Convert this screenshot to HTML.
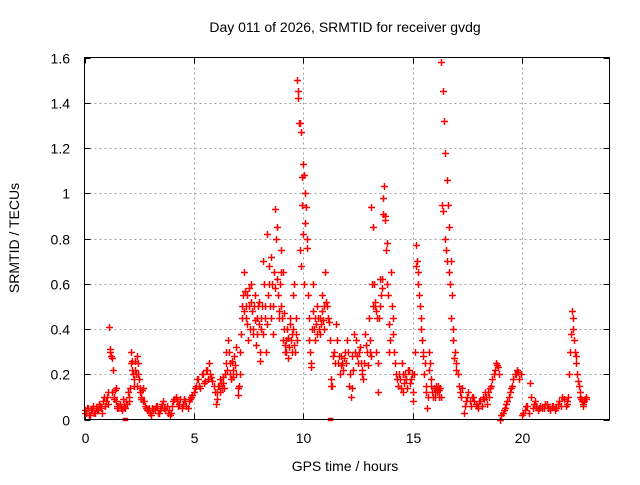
<!DOCTYPE html>
<html><head><meta charset="utf-8"><style>
body{margin:0;background:#fff}
svg text{font-family:"Liberation Sans",sans-serif;font-size:14px;fill:#000}
</style></head><body>
<svg id="chart" width="640" height="480" xmlns="http://www.w3.org/2000/svg">
<rect width="640" height="480" fill="#fff"/>
<text x="345" y="32" text-anchor="middle">Day 011 of 2026, SRMTID for receiver gvdg</text>
<text x="345" y="471" text-anchor="middle">GPS time / hours</text>
<text transform="translate(19,238) rotate(-90)" text-anchor="middle">SRMTID / TECUs</text>
<g id="grid"></g>
<g id="ticks"></g>
<g id="marks"></g>
<rect x="84.5" y="57.5" width="525" height="362" fill="none" stroke="#000" stroke-width="1"/>
</svg>
<script>
const xTicks=[0,5,10,15,20];
const yTicks=[0,0.2,0.4,0.6,0.8,1,1.2,1.4,1.6];
const yTickLabels=["0","0.2","0.4","0.6","0.8","1","1.2","1.4","1.6"];
const segStart=[0,1.0,1.5,2.0,2.7,4.0,5.0,6.0,7.0,8.0,9.0,10.0,11.0,12.0,13.0,14.0,15.0,16.0,17.0,18.0,19.0,20.0,21.0,22.0];
const segStep=[0.09,0.06,0.1,0.055,0.1,0.11,0.1,0.07,0.06,0.06,0.052,0.062,0.083,0.083,0.058,0.083,0.066,0.062,0.11,0.1,0.11,0.12,0.14,0.07];
const segValues=[
[0.04,0.03,0.05,0.02,0.04,0.03,0.05,0.04,0.06,0.03,0.1],
[0.08,0.12,0.41,0.30,0.27,0.22,0.10,0.14,0.06],
[0.05,0.07,0.04,0.06,0.08],
[0.12,0.08,0.30,0.26,0.2,0.15,0.22,0.28,0.25,0.18,0.12,0.10,0.14],
[0.08,0.05,0.04,0.03,0.05,0.04,0.06,0.03,0.05,0.08,0.04,0.03,0.02],
[0.06,0.09,0.08,0.07,0.05,0.09,0.06,0.08,0.10],
[0.12,0.15,0.18,0.14,0.20,0.17,0.22,0.25,0.19,0.15],
[0.07,0.12,0.15,0.18,0.14,0.16,0.2,0.3,0.35,0.25,0.18,0.22,0.28,0.32],
[0.11,0.15,0.3,0.45,0.55,0.65,0.5,0.42,0.35,0.58,0.6,0.48,0.4,0.55,0.33,0.45,0.52],
[0.26,0.4,0.5,0.7,0.45,0.3,0.82,0.6,0.5,0.72,0.38,0.65,0.93,0.85,0.55,0.45,0.75],
[0.5,0.65,0.47,0.3,0.35,0.4,0.27,0.32,0.45,0.38,0.55,0.6,0.3,0.45,1.5,1.45,1.31,1.27,1.07,0.82],
[1.13,1.0,0.94,0.8,0.45,0.3,0.23,0.6,0.4,0.35,0.5,0.45,0.38,0.42,0.55,0.4],
[0.65,0.5,0.43,0.18,0.15,0.3,0.42,0.25,0.2,0.28,0.22,0.3],
[0.35,0.15,0.1,0.28,0.38,0.35,0.25,0.32,0.2,0.18,0.38,0.3],
[0.45,0.3,0.94,0.85,0.6,0.5,0.3,0.12,0.45,0.62,0.58,0.98,1.03,0.9,0.78,0.55,0.3],
[0.65,0.45,0.3,0.2,0.15,0.18,0.25,0.12,0.2,0.14,0.22,0.18],
[0.08,0.2,0.77,0.7,0.6,0.5,0.4,0.3,0.2,0.12,0.05,0.3,0.25,0.15,0.1],
[0.12,0.15,0.13,0.1,0.14,1.58,1.45,1.32,1.18,1.06,0.95,0.85,0.7,0.55,0.4,0.3],
[0.25,0.15,0.1,0.03,0.08,0.12,0.06,0.1,0.07],
[0.05,0.08,0.1,0.12,0.07,0.1,0.15,0.2,0.25,0.23],
[0.0,0.03,0.05,0.08,0.12,0.15,0.2,0.22,0.18],
[0.02,0.04,0.06,0.16,0.05,0.08,0.04,0.06],
[0.05,0.07,0.04,0.06,0.05,0.08,0.1],
[0.06,0.07,0.2,0.3,0.48,0.4,0.3,0.25,0.17,0.12,0.09,0.06,0.08,0.1]
];
const segValuesB=[
[0.03,0.05,0.02,0.04,0.06,0.03,0.04,0.07,0.05,0.08,0.06],
[0.1,0.07,0.31,0.28,0.12,0.09,0.13,0.08,0.05],
[0.06,0.05,0.09,0.05,0.07],
[0.1,0.14,0.25,0.22,0.18,0.26,0.2,0.15,0.2,0.14,0.09,0.13,0.08],
[0.06,0.04,0.05,0.02,0.04,0.06,0.03,0.04,0.07,0.05,0.06,0.04,0.03],
[0.08,0.1,0.06,0.09,0.07,0.08,0.05,0.09,0.11],
[0.14,0.18,0.15,0.2,0.16,0.22,0.18,0.2,0.17,0.12],
[0.09,0.15,0.12,0.16,0.19,0.14,0.25,0.22,0.3,0.2,0.26,0.19,0.24,0.2],
[0.14,0.2,0.38,0.5,0.48,0.57,0.45,0.55,0.5,0.4,0.52,0.38,0.5,0.44,0.38,0.5,0.42],
[0.3,0.45,0.38,0.6,0.5,0.42,0.55,0.68,0.45,0.6,0.5,0.58,0.8,0.62,0.48,0.6,0.65],
[0.45,0.35,0.4,0.33,0.3,0.36,0.32,0.42,0.35,0.3,0.4,0.33,0.38,0.35,1.42,1.31,0.75,0.68,0.95,0.6],
[1.08,0.87,0.76,0.55,0.35,0.25,0.4,0.48,0.45,0.42,0.38,0.4,0.45,0.48,0.44,0.5],
[0.52,0.45,0.35,0.15,0.28,0.25,0.35,0.28,0.24,0.25,0.27,0.25],
[0.3,0.2,0.14,0.22,0.3,0.28,0.3,0.25,0.22,0.25,0.33,0.24],
[0.35,0.28,0.6,0.5,0.52,0.48,0.45,0.25,0.5,0.55,0.62,0.91,0.88,0.75,0.6,0.42,0.35],
[0.5,0.38,0.25,0.18,0.2,0.14,0.2,0.16,0.18,0.22,0.16,0.2],
[0.12,0.3,0.68,0.65,0.55,0.45,0.35,0.28,0.25,0.15,0.1,0.22,0.18,0.12,0.14],
[0.1,0.12,0.15,0.13,0.1,0.95,0.92,0.8,0.75,0.7,0.65,0.6,0.45,0.35,0.27,0.22],
[0.2,0.12,0.14,0.06,0.1,0.08,0.1,0.08,0.06],
[0.08,0.06,0.09,0.1,0.12,0.14,0.18,0.22,0.24,0.2],
[0.02,0.04,0.07,0.1,0.14,0.18,0.2,0.21,0.2],
[0.03,0.06,0.03,0.1,0.07,0.06,0.05,0.05],
[0.07,0.05,0.06,0.04,0.07,0.06,0.09],
[0.08,0.1,0.3,0.38,0.45,0.35,0.28,0.2,0.15,0.1,0.08,0.07,0.09,0.09]
];
const zeroHours=[1.85,11.2];
const X0=84.5,X1=609.5,Y0=419.5,Y1=57.5,XMAX=24,YMAX=1.6;
function xs(h){return X0+(X1-X0)*h/XMAX;}
function ys(v){return Y0-(Y0-Y1)*v/YMAX;}
const NS="http://www.w3.org/2000/svg";
const grid=document.getElementById('grid'),ticks=document.getElementById('ticks'),marks=document.getElementById('marks');
function ln(p,x1,y1,x2,y2,st,dash){const l=document.createElementNS(NS,'line');l.setAttribute('x1',x1);l.setAttribute('y1',y1);l.setAttribute('x2',x2);l.setAttribute('y2',y2);l.setAttribute('stroke',st);if(dash)l.setAttribute('stroke-dasharray',dash);p.appendChild(l);return l;}
xTicks.forEach(t=>{const x=Math.round(xs(t))+0.5;
 if(t>0){const g=ln(grid,x,Y1,x,Y0,'#a0a0a0','2,3');
 
 }
 ln(ticks,x,Y0,x,Y0-6,'#000');ln(ticks,x,Y1,x,Y1+6,'#000');
 const tx=document.createElementNS(NS,'text');tx.setAttribute('x',x);tx.setAttribute('y',443);tx.setAttribute('text-anchor','middle');tx.textContent=t;
 
 
 ticks.appendChild(tx);});
yTicks.forEach((t,i)=>{const y=Math.round(ys(t))+0.5;
 if(t>0&&t<1.6){const g=ln(grid,X0,y,X1,y,'#a0a0a0','2,3');
 
 }
 ln(ticks,X0,y,X0+6,y,'#000');ln(ticks,X1,y,X1-6,y,'#000');
 const tx=document.createElementNS(NS,'text');tx.setAttribute('x',70);tx.setAttribute('y',y+5);tx.setAttribute('text-anchor','end');tx.textContent=yTickLabels[i];
 
 
 ticks.appendChild(tx);});
let d='';
function addSet(set,shift){set.forEach((vals,s)=>{vals.forEach((v,i)=>{const h=segStart[s]+(i+shift)*segStep[s];const x=Math.round(xs(h))+0.5,y=Math.round(ys(v))+0.5;
 d+=`M${x-3.5} ${y}h7M${x} ${y-3.5}v7`;});});}
addSet(segValues,0);
addSet(segValuesB,0.5);
zeroHours.forEach(h=>{const x=Math.round(xs(h))+0.5,y=Y0;d+=`M${x-2} ${y-1}h4v2h-4z`;});
const p=document.createElementNS(NS,'path');p.setAttribute('d',d);p.setAttribute('stroke','#f00');p.setAttribute('stroke-width','1.5');p.setAttribute('fill','none');


marks.appendChild(p);
</script>
</body></html>
